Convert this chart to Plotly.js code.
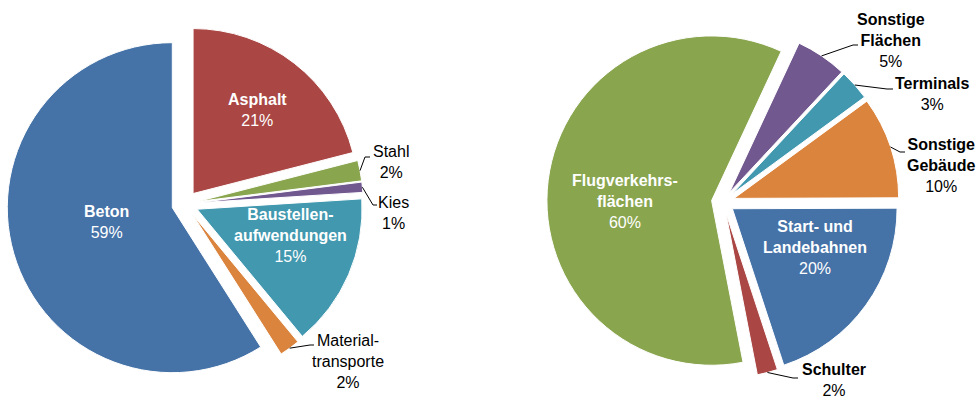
<!DOCTYPE html>
<html>
<head>
<meta charset="utf-8">
<script src="https://cdn.plot.ly/plotly-3.0.1.min.js"></script>
<style>html,body{margin:0;padding:0;background:#fff}#chart{width:980px;height:401px}</style>
</head>
<body>
<div id="chart"></div>
<script>
// ---- data ----
var baustoffLabels = ['Asphalt', 'Stahl', 'Kies', 'Baustellen-<br>aufwendungen', 'Material-<br>transporte', 'Beton'];
var baustoffValues = [21, 2, 1, 15, 2, 59];
var baustoffColors = ['#AA4643', '#89A54E', '#71588F', '#4198AF', '#DB843D', '#4572A7'];

var flaechenLabels = ['Sonstige<br>Flächen', 'Terminals', 'Sonstige<br>Gebäude', 'Start- und<br>Landebahnen', 'Schulter', 'Flugverkehrs-<br>flächen'];
var flaechenValues = [5, 3, 10, 20, 2, 60];
var flaechenColors = ['#71588F', '#4198AF', '#DB843D', '#4572A7', '#AA4643', '#89A54E'];

// ---- layout settings ----
var W = 980, H = 401;
var leftPie = {domain: {x: [0.0069, 0.3706], y: [0.0469, 0.9357]}, pull: 0.08, rotation: 0, boldOutside: false};
var rightPie = {domain: {x: [0.558, 0.9176], y: [0.0569, 0.9357]}, pull: 0.07, rotation: 25, boldOutside: true};

// label placement (pixels). inside labels: block centre; outside labels: block centre + leader knee/end
var leftInside = {0: {lx: 257, ly: 110}, 3: {lx: 290, ly: 235}, 5: {lx: 106, ly: 222}};
var rightInside = {3: {lx: 815, ly: 247}, 5: {lx: 625, ly: 201}};
var leftOutside = {
  1: {lx: 391, ly: 162, kx: 365, ky: 157, ex: 370, ey: 157},
  2: {lx: 393, ly: 213, kx: 373, ky: 205, ex: 377, ey: 205},
  4: {lx: 348, ly: 361, kx: 310, ky: 345, ex: 314, ey: 345}
};
var rightOutside = {
  0: {lx: 891, ly: 40, kx: 853, ky: 45, ex: 858, ey: 45},
  1: {lx: 932, ly: 94, kx: 887, ky: 89, ex: 893, ey: 89},
  2: {lx: 941, ly: 165, kx: 900, ky: 152, ex: 905, ey: 152},
  4: {lx: 834, ly: 380, kx: 793, ky: 378, ex: 798, ey: 378}
};

var FONT = 'Liberation Sans, Arial, sans-serif';

function makeTrace(labels, values, colors, cfg) {
  return {
    type: 'pie', labels: labels, values: values, sort: false, direction: 'clockwise',
    rotation: cfg.rotation, domain: cfg.domain,
    pull: values.map(function () { return cfg.pull; }),
    marker: {colors: colors, line: {color: '#ffffff', width: 1}},
    textposition: 'none', textinfo: 'none',
    hoverinfo: 'none', showlegend: false
  };
}

var shapes = [], annotations = [];
function px2x(p) { return p / W; }
function py2y(p) { return 1 - p / H; }

function addLabels(labels, values, cfg, inside, outside) {
  var total = values.reduce(function (a, b) { return a + b; }, 0);
  var bw = W * (cfg.domain.x[1] - cfg.domain.x[0]);
  var bh = H * (cfg.domain.y[1] - cfg.domain.y[0]);
  var cx = W * (cfg.domain.x[0] + cfg.domain.x[1]) / 2;
  var cy = H * (1 - (cfg.domain.y[0] + cfg.domain.y[1]) / 2);
  var r = Math.min(bw, bh) / 2 / (1 + cfg.pull);
  var cum = 0;
  for (var i = 0; i < values.length; i++) {
    var mid = (cfg.rotation + 360 * (cum + values[i] / 2) / total) * Math.PI / 180;
    cum += values[i];
    var ins = inside[i];
    if (ins) {
      annotations.push({xref: 'paper', yref: 'paper', x: px2x(ins.lx), y: py2y(ins.ly),
        xanchor: 'center', yanchor: 'middle', align: 'center', showarrow: false,
        text: '<b>' + labels[i] + '</b><br>' + values[i] + '%',
        font: {family: FONT, size: 16, color: '#ffffff'}});
    }
    var o = outside[i];
    if (!o) continue;
    var rr = r * (1 + cfg.pull);
    var sx = cx + rr * Math.sin(mid), sy = cy - rr * Math.cos(mid);
    shapes.push({type: 'path', xref: 'paper', yref: 'paper',
      path: 'M ' + px2x(sx) + ',' + py2y(sy) + ' L ' + px2x(o.kx) + ',' + py2y(o.ky) + ' L ' + px2x(o.ex) + ',' + py2y(o.ey),
      line: {color: '#000000', width: 1}});
    var name = cfg.boldOutside ? '<b>' + labels[i] + '</b>' : labels[i];
    annotations.push({xref: 'paper', yref: 'paper', x: px2x(o.lx), y: py2y(o.ly),
      xanchor: 'center', yanchor: 'middle', align: 'center', showarrow: false,
      text: name + '<br>' + values[i] + '%', font: {family: FONT, size: 16, color: '#000000'}});
  }
}

addLabels(baustoffLabels, baustoffValues, leftPie, leftInside, leftOutside);
addLabels(flaechenLabels, flaechenValues, rightPie, rightInside, rightOutside);

var data = [
  makeTrace(baustoffLabels, baustoffValues, baustoffColors, leftPie),
  makeTrace(flaechenLabels, flaechenValues, flaechenColors, rightPie)
];

var layout = {
  width: W, height: H, margin: {l: 0, r: 0, t: 0, b: 0},
  paper_bgcolor: '#ffffff', plot_bgcolor: '#ffffff',
  showlegend: false, hovermode: false,
  font: {family: FONT, size: 16},
  shapes: shapes, annotations: annotations
};

Plotly.newPlot('chart', data, layout, {displayModeBar: false, staticPlot: true});
</script>
</body>
</html>
